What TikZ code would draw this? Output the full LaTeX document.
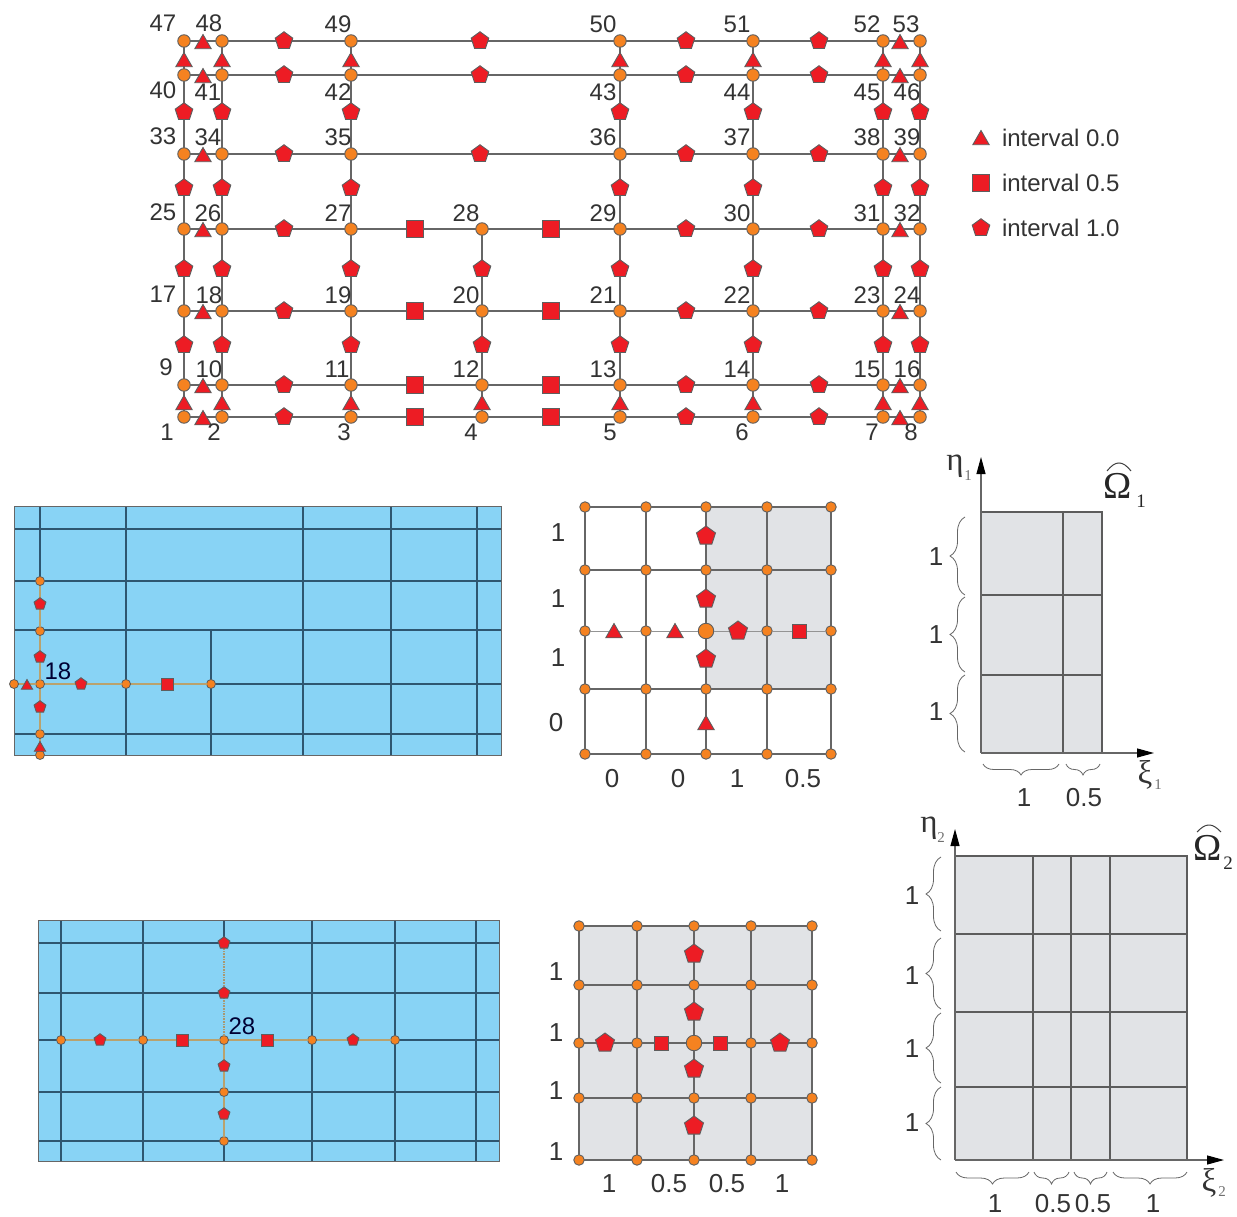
\documentclass[tikz,border=0pt]{standalone}
\usepackage{fontspec}
\setmainfont{Liberation Sans}
\newfontfamily\grk{Liberation Serif}
\usetikzlibrary{shapes.geometric,arrows.meta,decorations.pathreplacing}
\definecolor{dotor}{HTML}{F58220}
\definecolor{mred}{HTML}{ED1C24}
\definecolor{edgegr}{HTML}{5E5E5E}
\definecolor{linegr}{HTML}{666666}
\definecolor{pgray}{HTML}{E1E3E6}
\definecolor{pblue}{HTML}{88D3F5}
\definecolor{bluel}{HTML}{2E5670}
\definecolor{tan}{HTML}{B9A26E}
\definecolor{txt}{HTML}{333333}
\tikzset{
 every node/.style={inner sep=0pt,outer sep=0pt,text=txt},
 dotA/.style={circle,fill=dotor,draw=edgegr,line width=0.9pt,minimum size=12.5pt},
 dotB/.style={circle,fill=dotor,draw=edgegr,line width=0.8pt,minimum size=9pt},
 dotC/.style={circle,fill=dotor,draw=edgegr,line width=0.9pt,minimum size=10.5pt},
 dotBig/.style={circle,fill=dotor,draw=edgegr,line width=0.9pt,minimum size=15.5pt},
 pentA/.style={regular polygon,regular polygon sides=5,fill=mred,draw=edgegr,line width=0.9pt,minimum size=#1},
 triA/.style={regular polygon,regular polygon sides=3,fill=mred,draw=edgegr,line width=0.9pt,minimum size=#1},
 sqA/.style={rectangle,fill=mred,draw=edgegr,line width=0.9pt,minimum size=#1},
 gridl/.style={draw=linegr,line width=1.3pt},
 midl/.style={draw=linegr,line width=1.4pt},
 midthin/.style={draw=linegr!70,line width=0.7pt},
 bluegrid/.style={draw=bluel,line width=1.25pt},
 tanl/.style={draw=tan,line width=2.2pt},
 tand/.style={draw=tan!70!gray,line width=1.6pt,densely dotted},
 domainl/.style={draw=linegr!90!black,line width=1.3pt},
 axisl/.style={draw=linegr,line width=1.1pt,-{Stealth[inset=0pt,length=17pt,width=9pt,black]}},
 brc/.style={draw=linegr,line width=0.8pt,decorate,decoration={brace,amplitude=#1}},
 lab/.style={font=\fontsize{24}{28}\selectfont},
 labm/.style={font=\fontsize{26}{30}\selectfont},
 leg/.style={font=\fontsize{24}{28}\selectfont,anchor=west},
 big/.style={font=\grk\fontsize{33}{36}\selectfont},
 subs/.style={font=\grk\fontsize{15}{17}\selectfont,text=txt!70},
 omg/.style={font=\grk\fontsize{38}{42}\selectfont,text=black!85},
 omgs/.style={font=\grk\fontsize{19}{22}\selectfont,text=black!85},
}
\begin{document}
\begin{tikzpicture}[x=1pt,y=-1pt]
\useasboundingbox (0,0) rectangle (1237,1217);
%% ---------- top grid ----------
\foreach \n/\x/\y in {1/184/417,2/222/417,3/351/417,4/482/417,5/620/417,6/753/417,7/883/417,8/920/417,
 9/184/385,10/222/385,11/351/385,12/482/385,13/620/385,14/753/385,15/883/385,16/920/385,
 17/184/311,18/222/311,19/351/311,20/482/311,21/620/311,22/753/311,23/883/311,24/920/311,
 25/184/229,26/222/229,27/351/229,28/482/229,29/620/229,30/753/229,31/883/229,32/920/229,
 33/184/154,34/222/154,35/351/154,36/620/154,37/753/154,38/883/154,39/920/154,
 40/184/75,41/222/75,42/351/75,43/620/75,44/753/75,45/883/75,46/920/75,
 47/184/41,48/222/41,49/351/41,50/620/41,51/753/41,52/883/41,53/920/41}
 \node[dotA] (n\n) at (\x,\y) {};
\foreach \s in {1,9,17,25} \foreach \k in {0,...,6} {
 \pgfmathtruncatemacro\a{\s+\k}\pgfmathtruncatemacro\b{\a+1}
 \draw[gridl] (n\a) -- (n\b);}
\foreach \s in {33,40,47} \foreach \k in {0,...,5} {
 \pgfmathtruncatemacro\a{\s+\k}\pgfmathtruncatemacro\b{\a+1}
 \draw[gridl] (n\a) -- (n\b);}
\foreach \s in {1,9,17} \foreach \k in {0,...,7} {
 \pgfmathtruncatemacro\a{\s+\k}\pgfmathtruncatemacro\b{\a+8}
 \draw[gridl] (n\a) -- (n\b);}
\foreach \s in {33,40} \foreach \k in {0,...,6} {
 \pgfmathtruncatemacro\a{\s+\k}\pgfmathtruncatemacro\b{\a+7}
 \draw[gridl] (n\a) -- (n\b);}
\foreach \a/\b in {25/33,26/34,27/35,29/36,30/37,31/38,32/39}
 \draw[gridl] (n\a) -- (n\b);
%% horizontal markers
\foreach \y [count=\i] in {417,385,311,229} {
 \foreach \x [count=\j] in {203,900} \node[triA=19pt] (ht\i-\j) at (\x,\y+3) {};
 \foreach \x [count=\j] in {284,686,819} \node[pentA=18.5pt] (hp\i-\j) at (\x,\y) {};
 \foreach \x [count=\j] in {415,551} \node[sqA=17pt] (hs\i-\j) at (\x,\y) {};
}
\foreach \y [count=\i] in {154,75,41} {
 \foreach \x [count=\j] in {203,900} \node[triA=19pt] (kt\i-\j) at (\x,\y+3) {};
 \foreach \x [count=\j] in {284,480,686,819} \node[pentA=18.5pt] (kp\i-\j) at (\x,\y) {};
}
%% vertical markers
\foreach \x [count=\i] in {184,222,351,620,753,883,920} {
 \node[triA=19pt] (vta\i) at (\x,62) {};
 \foreach \y [count=\j] in {112,188,269,345} \node[pentA=18.5pt] (vp\i-\j) at (\x,\y) {};
 \node[triA=19pt] (vtb\i) at (\x,405) {};
}
\node[pentA=18.5pt] (cp1) at (482,269) {};
\node[pentA=18.5pt] (cp2) at (482,345) {};
\node[triA=19pt] (ct) at (482,405) {};
%% numbers
\foreach \t/\x/\y in {47/163/23,48/209/23,49/338/24,50/603/24,51/737/24,52/867/24,53/906/24,
 40/163/90,41/208/92,42/338/92,43/603/92,44/737/92,45/867/92,46/907/92,
 33/163/136,34/208/137,35/338/137,36/603/137,37/737/137,38/867/137,39/907/137,
 25/163/212,26/208/213,27/338/213,28/466/213,29/603/213,30/737/213,31/867/213,32/907/213,
 17/163/294,18/209/295,19/338/295,20/466/295,21/603/295,22/737/295,23/867/295,24/907/295,
 9/166/367,10/209/369,11/337/369,12/466/369,13/603/369,14/737/369,15/867/369,16/907/369}
 \node[lab] (l\t) at (\x,\y) {\t};
\begin{scope}
\clip (100,400) rectangle (1000,441);
\foreach \t/\x in {1/167,2/214,3/344,4/471,5/610,6/742,7/872,8/911}
 \node[lab] (l\t) at (\x,432) {\t};
\end{scope}
%% legend
\node[triA=19pt] (lg1) at (981,140) {};
\node[sqA=17pt] (lg2) at (981,183) {};
\node[pentA=18.5pt] (lg3) at (981,228) {};
\node[leg] (lt1) at (1002,138) {interval 0.0};
\node[leg] (lt2) at (1002,183) {interval 0.5};
\node[leg] (lt3) at (1002,228) {interval 1.0};

%% ---------- blue panel 1 ----------
\fill[pblue] (14,506) rectangle (501,755);
\foreach \y in {529,581,630,684,734} \draw[bluegrid] (14,\y) -- (501,\y);
\foreach \x in {40,126,303,391,477} \draw[bluegrid] (\x,506) -- (\x,755);
\draw[bluegrid] (211,630) -- (211,755);
\draw[draw=linegr,line width=1pt] (14,506) rectangle (501,755);
\foreach \n/\x/\y in {a/40/581,b/40/631,c/40/684,d/40/734,e/40/755,f/14/684,g/126/684,h/211/684}
 \node[dotB] (p\n) at (\x,\y) {};
\draw[tanl] (pa)--(pb); \draw[tanl] (pb)--(pc); \draw[tanl] (pc)--(pd); \draw[tanl] (pd)--(pe);
\draw[tanl] (pf)--(pc); \draw[tanl] (pc)--(pg); \draw[tanl] (pg)--(ph);
\foreach \n/\x/\y in {a/40/604,b/40/657,c/81/684,d/40/707}
 \node[pentA=12.5pt] (pp\n) at (\x,\y) {};
\node[triA=13pt] (ppt1) at (27,686) {};
\node[triA=13pt] (ppt2) at (40,748) {};
\node[sqA=12pt] (pps) at (167,684) {};
\node[lab,text=black!80!blue] (pl) at (58,671) {18};

%% ---------- middle grid 1 ----------
\fill[pgray] (706,507) rectangle (831,689);
\foreach \x [count=\i] in {585,646,706,767,831}
 \foreach \y [count=\j] in {507,570,631,689,754} {
  \ifnum\i\j=33 \node[dotBig] (q\i\j) at (\x,\y) {};
  \else \node[dotC] (q\i\j) at (\x,\y) {}; \fi }
\foreach \a/\b in {11/21,21/31,31/41,41/51,12/22,22/32,32/42,42/52,14/24,24/34,34/44,44/54,15/25,25/35,35/45,45/55,
 11/12,12/13,13/14,14/15,21/22,22/23,23/24,24/25,31/32,32/33,33/34,34/35,41/42,42/43,43/44,44/45,51/52,52/53,53/54,54/55}
 \draw[midl] (q\a) -- (q\b);
\foreach \a/\b in {13/23,23/33,33/43,43/53}
 \draw[midthin] (q\a) -- (q\b);
\foreach \n/\x/\y in {a/706/536,b/706/599,c/706/659,d/738/631}
 \node[pentA=20pt] (qp\n) at (\x,\y) {};
\foreach \n/\x/\y in {a/706/725,b/614/633,c/675/633}
 \node[triA=19pt] (qt\n) at (\x,\y) {};
\node[sqA=14pt] (qs) at (799,631) {};
\foreach \t/\x/\y [count=\i] in {1/558/533,1/558/599,1/558/658,0/556/723,0/612/779,0/678/779,1/737/779,0.5/803/779}
 \node[labm] (qn\i) at (\x,\y) {\t};

%% ---------- domain 1 ----------
\coordinate (o1) at (981,753);
\coordinate (y1) at (981,457);
\coordinate (x1) at (1154,753);
\fill[pgray] (981,512) rectangle (1102,753);
\draw[domainl] (981,512) -- (1102,512) -- (1102,753);
\foreach \y in {595,675} \draw[domainl] (981,\y) -- (1102,\y);
\draw[domainl] (1063,512) -- (1063,753);
\draw[axisl] (o1) -- (y1);
\draw[axisl] (o1) -- (x1);
\draw[brc=15pt] (965,595) -- (965,517);
\draw[brc=15pt] (965,672) -- (965,597);
\draw[brc=15pt] (965,752) -- (965,675);
\draw[brc=11pt] (1059,764) -- (983,764);
\draw[brc=11pt] (1100,764) -- (1066,764);
\foreach \t/\x/\y [count=\i] in {1/936/557,1/936/635,1/936/712}
 \node[labm] (dn\i) at (\x,\y) {\t};
\begin{scope}
\clip (960,780) rectangle (1120,807);
\node[labm] (dn4) at (1024,798) {1};
\node[labm] (dn5) at (1084,798) {0.5};
\end{scope}
\node[big] (e1) at (955,466) {η};
\node[subs] (e1s) at (968,476) {1};
\node[big] (k1) at (1145,775) {ξ};
\node[subs] (k1s) at (1158,785) {1};
\node[omg] (w1) at (1118,486) {Ω};
\node[omgs] (w1s) at (1141,501) {1};
\draw[black!75,line width=1pt] (1107,471) .. controls (1112,465) and (1115,463) .. (1119,463) .. controls (1123,463) and (1126,465) .. (1131,471);

%% ---------- blue panel 2 ----------
\fill[pblue] (38,920) rectangle (499,1161);
\foreach \y in {943,993,1040,1092,1141} \draw[bluegrid] (38,\y) -- (499,\y);
\foreach \x in {61,143,312,395,476} \draw[bluegrid] (\x,920) -- (\x,1161);
\draw[bluegrid] (224,920) -- (224,943);
\draw[bluegrid] (224,1141) -- (224,1161);
\draw[draw=linegr,line width=1pt] (38,920) rectangle (499,1161);
\foreach \n/\x/\y in {a/61/1040,b/143/1040,c/224/1040,d/312/1040,e/395/1040,f/224/1092,g/224/1141}
 \node[dotB] (r\n) at (\x,\y) {};
\coordinate (rt) at (224,943);
\draw[tanl] (ra)--(rb); \draw[tanl] (rb)--(rc); \draw[tanl] (rc)--(rd); \draw[tanl] (rd)--(re);
\draw[tanl] (rc)--(rf); \draw[tanl] (rf)--(rg);
\draw[tand] (rc)--(rt);
\foreach \n/\x/\y in {a/100/1040,b/353/1040,c/224/943,d/224/993,e/224/1066,f/224/1114}
 \node[pentA=12.5pt] (rp\n) at (\x,\y) {};
\node[sqA=12pt] (rs1) at (182,1040) {};
\node[sqA=12pt] (rs2) at (267,1040) {};
\node[lab,text=black!80!blue] (rl) at (242,1026) {28};

%% ---------- middle grid 2 ----------
\fill[pgray] (579,926) rectangle (812,1160);
\foreach \x [count=\i] in {579,637,694,751,812}
 \foreach \y [count=\j] in {926,985,1043,1098,1160} {
  \ifnum\i\j=33 \node[dotBig] (s\i\j) at (\x,\y) {};
  \else \node[dotC] (s\i\j) at (\x,\y) {}; \fi }
\foreach \i in {1,...,5} \foreach \j/\k in {1/2,2/3,3/4,4/5} {
 \draw[midl] (s\i\j) -- (s\i\k);
 \draw[midl] (s\j\i) -- (s\k\i);}
\foreach \n/\x/\y in {a/694/954,b/694/1012,c/694/1069,d/694/1126,e/605/1043,f/780/1043}
 \node[pentA=20pt] (sp\n) at (\x,\y) {};
\node[sqA=14pt] (ss1) at (661,1043) {};
\node[sqA=14pt] (ss2) at (720,1043) {};
\foreach \t/\x/\y [count=\i] in {1/556/972,1/556/1033,1/556/1091,1/556/1152,1/609/1184,0.5/669/1184,0.5/727/1184,1/782/1184}
 \node[labm] (sn\i) at (\x,\y) {\t};

%% ---------- domain 2 ----------
\coordinate (o2) at (955,1160);
\coordinate (y2) at (955,829);
\coordinate (x2) at (1224,1160);
\fill[pgray] (955,856) rectangle (1187,1160);
\draw[domainl] (955,856) -- (1187,856) -- (1187,1160);
\foreach \y in {934,1012,1087} \draw[domainl] (955,\y) -- (1187,\y);
\foreach \x in {1033,1071,1110} \draw[domainl] (\x,856) -- (\x,1160);
\draw[axisl] (o2) -- (y2);
\draw[axisl] (o2) -- (x2);
\draw[brc=15pt] (941,931) -- (941,857);
\draw[brc=15pt] (941,1009) -- (941,938);
\draw[brc=15pt] (941,1083) -- (941,1013);
\draw[brc=15pt] (941,1160) -- (941,1087);
\draw[brc=12pt] (1029,1172) -- (956,1172);
\draw[brc=12pt] (1069,1172) -- (1034,1172);
\draw[brc=12pt] (1107,1172) -- (1074,1172);
\draw[brc=12pt] (1187,1172) -- (1113,1172);
\foreach \t/\x/\y [count=\i] in {1/912/896,1/912/976,1/912/1049,1/912/1123}
 \node[labm] (en\i) at (\x,\y) {\t};
\begin{scope}
\clip (960,1185) rectangle (1180,1212);
\foreach \t/\x [count=\i] in {1/995,0.5/1053,0.5/1093,1/1153}
 \node[labm] (eb\i) at (\x,1204) {\t};
\end{scope}
\node[big] (e2) at (929,828) {η};
\node[subs] (e2s) at (941,838) {2};
\node[big] (k2) at (1209,1183) {ξ};
\node[subs] (k2s) at (1222,1192) {2};
\node[omg] (w2) at (1208,848) {Ω};
\node[omgs] (w2s) at (1228,863) {2};
\draw[black!75,line width=1pt] (1197,832) .. controls (1202,827) and (1205,825) .. (1209,825) .. controls (1213,825) and (1216,827) .. (1221,832);
\end{tikzpicture}
\end{document}
